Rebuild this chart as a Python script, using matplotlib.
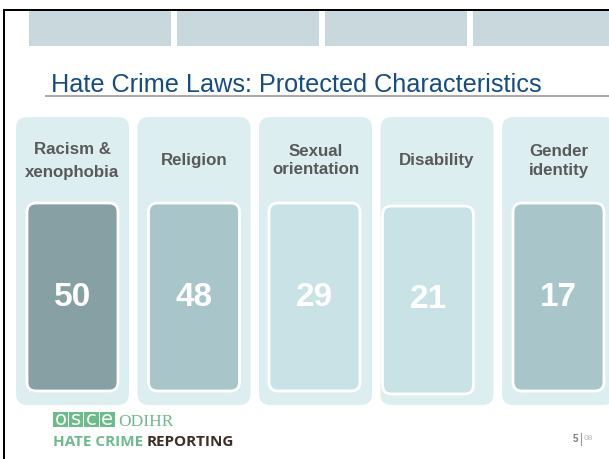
import matplotlib
matplotlib.use("Agg")
import matplotlib.pyplot as plt
from matplotlib.patches import FancyBboxPatch, Rectangle

# ---- data ----
categories = [["Racism &", "xenophobia"], ["Religion"], ["Sexual", "orientation"],
              ["Disability"], ["Gender", "identity"]]
values = [50, 48, 29, 21, 17]
title = "Hate Crime Laws: Protected Characteristics"
page_no = "5"
page_total = "08"

# ---- styles ----
box_colors = ["#87a0a3", "#a8c5c9", "#c9e2e6", "#c9e2e6", "#a8c5c9"]
panel_color = "#ddeef0"
label_color = "#595959"
title_color = "#144c84"
green = "#6dbb8c"
brown = "#3f2e28"

W, H = 609, 459
fig = plt.figure(figsize=(W / 100, H / 100), dpi=100)
ax = fig.add_axes([0, 0, 1, 1])
ax.set_xlim(0, W)
ax.set_ylim(H, 0)
ax.axis("off")

# slide frame
ax.add_patch(Rectangle((3, 8.5), W - 3, 2.6, color="black", lw=0))
ax.add_patch(Rectangle((3, 8.5), 2.4, H - 8.5, color="black", lw=0))

# top banner blocks
for i in range(4):
    ax.add_patch(Rectangle((29 + i * 148, 11), 142, 35, color="#c9d8dc", lw=0))

# title
ax.text(51, 92, title, fontsize=18.2, color=title_color, family="Liberation Sans",
        ha="left", va="baseline")
ax.plot([45, W], [95.5, 95.5], color="#9a9a9a", lw=1.2, solid_capstyle="butt")

# panels
inner_off = [11, 11, 10, 2, 11]
inner_top = [203, 203, 203, 206, 203]
line_gap = [24, 0, 18, 0, 18]
for i, (lab, v) in enumerate(zip(categories, values)):
    x0 = 16 + i * 121.5
    pw = 113
    ax.add_patch(FancyBboxPatch((x0, 117), pw, 288,
                                boxstyle="round,pad=0,rounding_size=11",
                                fc=panel_color, ec="none"))
    ix = x0 + inner_off[i]
    iy = inner_top[i]
    ax.add_patch(FancyBboxPatch((ix, iy), 91, 188,
                                boxstyle="round,pad=0,rounding_size=9",
                                fc=box_colors[i], ec="white", lw=2.0))
    cx = x0 + pw / 2
    n = len(lab)
    for j, line in enumerate(lab):
        y = 161 + (j - (n - 1) / 2) * line_gap[i]
        ax.text(cx, y, line, fontsize=12.2, fontweight="bold", color=label_color,
                family="Liberation Sans", ha="center", va="center")
    ax.text(ix + 45.5, iy + 94, str(v), fontsize=24, fontweight="bold",
            color="white", family="Liberation Sans", ha="center", va="center")

# footer logo
for k, ch in enumerate("osce"):
    ax.add_patch(Rectangle((53 + k * 15.6, 412), 14.8, 15, color=green, lw=0))
    ax.text(53 + k * 15.6 + 7.4, 419.5, ch, fontsize=14, color="white",
            family="DejaVu Sans", ha="center", va="center")
ax.text(118, 426.5, "ODIHR", fontsize=12.5, color=green, family="Liberation Serif",
        ha="left", va="baseline")
t1 = ax.text(53, 445.5, "HATE CRIME ", fontsize=11, fontweight="bold", color=green,
             family="Open Sans", ha="left", va="baseline")
ax.annotate("REPORTING", xy=(1, 0), xycoords=t1, fontsize=11, fontweight="bold",
            color=brown, family="Open Sans", ha="left", va="bottom")

# page number
ax.text(578, 439, page_no, fontsize=7, fontweight="bold", color="#7a7a7a",
        family="Liberation Sans", ha="right", va="center")
ax.plot([581, 581], [433, 445], color="#9a9a9a", lw=0.8)
ax.text(584, 439, page_total, fontsize=6, color="#b5b5b5",
        family="Liberation Sans", ha="left", va="center")

fig.savefig("out.png", dpi=100)
